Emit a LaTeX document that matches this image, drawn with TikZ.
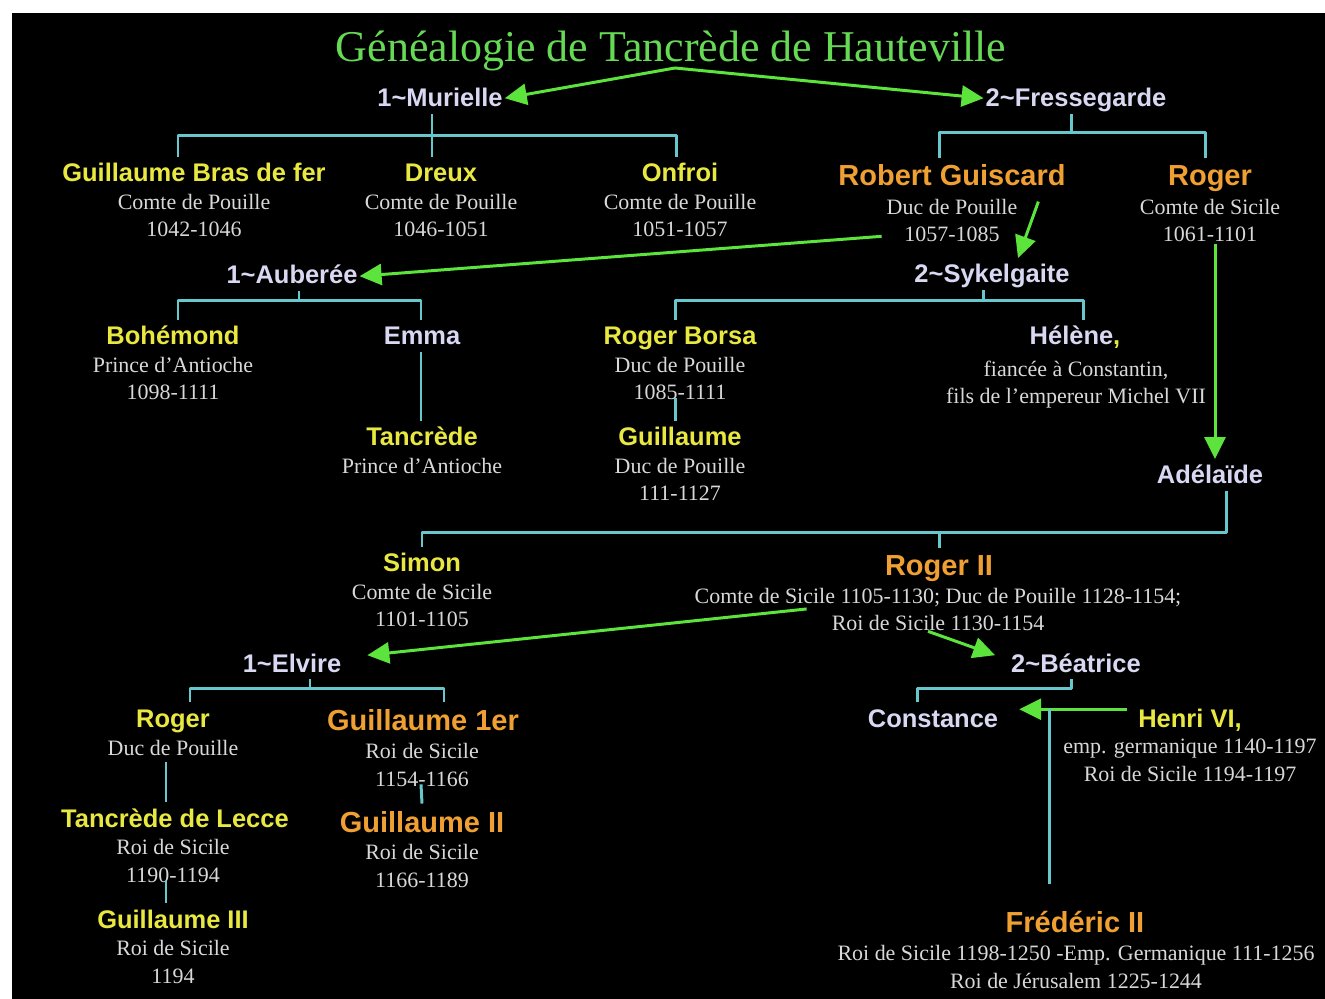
\documentclass[tikz,border=0pt]{standalone}
\usepackage{fontspec}
\setmainfont{Liberation Serif}
\setsansfont{Liberation Sans}
\usetikzlibrary{arrows.meta,calc}
\definecolor{kincol}{HTML}{66C8CC}
\definecolor{wedcol}{HTML}{5CE43C}
\definecolor{titlecol}{HTML}{66DA55}
\definecolor{yelname}{HTML}{E8E840}
\definecolor{oraname}{HTML}{F0A032}
\definecolor{lavname}{HTML}{D8D8F2}
\definecolor{desctxt}{HTML}{D8D8D8}
\begin{document}
\begin{tikzpicture}[x=0.02cm, y=-0.02cm, line join=round, >={Triangle[length=0.44cm,width=0.42cm]},
	person/.style={anchor=base, inner sep=1pt, font=\sffamily\bfseries\fontsize{14.5}{17}\selectfont, text height=13pt, text depth=3pt},
	yel/.style={person, text=yelname},
	lav/.style={person, text=lavname},
	ora/.style={person, font=\sffamily\bfseries\fontsize{16.5}{19}\selectfont, text height=15pt, text depth=3.5pt, text=oraname},
	desc/.style={anchor=base, inner sep=1pt, align=center, text=desctxt, font=\fontsize{12.5}{15.4}\selectfont},
	kin/.style={draw=kincol, line width=1.7pt},
	wed/.style={draw=wedcol, line width=1.7pt, ->}]
	% fond
	\fill[white] (0,0) rectangle (1325,999);
	\fill[black] (12,13) rectangle (1325,999);
	\useasboundingbox (0,0) rectangle (1325,999);
	% titre
	\node[anchor=base, inner sep=1pt, text=titlecol, font=\fontsize{25}{30}\selectfont] (title) at (671,62) {Généalogie de Tancrède de Hauteville};
	% generation 1 (desc: base = derniere ligne)
	\node[lav] (murielle) at (440,107) {1\textasciitilde Murielle};
	\node[lav] (fressegarde) at (1076,107) {2\textasciitilde Fressegarde};
	\node[yel] (gbf) at (194,182) {Guillaume Bras de fer};
	\node[desc] (gbfD) at (194,237) {Comte de Pouille\\1042-1046};
	\node[yel] (dreux) at (441,182) {Dreux};
	\node[desc] (dreuxD) at (441,237) {Comte de Pouille\\1046-1051};
	\node[yel] (onfroi) at (680,182) {Onfroi};
	\node[desc] (onfroiD) at (680,237) {Comte de Pouille\\1051-1057};
	\node[ora] (robert) at (952,186) {Robert Guiscard};
	\node[desc] (robertD) at (952,242) {Duc de Pouille\\1057-1085};
	\node[ora] (rogerA) at (1210,186) {Roger};
	\node[desc] (rogerAD) at (1210,242) {Comte de Sicile\\1061-1101};
	% generation 2
	\node[lav] (auberee) at (292,284) {1\textasciitilde Auberée};
	\node[lav] (sykelgaite) at (992,283) {2\textasciitilde Sykelgaite};
	\node[yel] (bohemond) at (173,345) {Bohémond};
	\node[desc] (bohemondD) at (173,400) {Prince d'Antioche\\1098-1111};
	\node[lav] (emma) at (422,345) {Emma};
	\node[yel] (tancrede) at (422,446) {Tancrède};
	\node[desc] (tancredeD) at (422,474) {Prince d'Antioche};
	\node[yel] (rborsa) at (680,345) {Roger Borsa};
	\node[desc] (rborsaD) at (680,400) {Duc de Pouille\\1085-1111};
	\node[yel] (guillaume) at (680,446) {Guillaume};
	\node[desc] (guillaumeD) at (680,501) {Duc de Pouille\\111-1127};
	\node[lav] (helene) at (1075,345) {Hélène\textcolor{yelname}{,}};
	\node[desc] (heleneD) at (1076,404) {fiancée à Constantin,\\fils de l'empereur Michel VII};
	\node[lav] (adelaide) at (1210,484) {Adélaïde};
	% generation 3
	\node[yel] (simon) at (422,572) {Simon};
	\node[desc] (simonD) at (422,627) {Comte de Sicile\\1101-1105};
	\node[ora] (roger2) at (939,576) {Roger II};
	\node[desc] (roger2D) at (938,631) {Comte de Sicile 1105-1130; Duc de Pouille 1128-1154;\\Roi de Sicile 1130-1154};
	\node[lav] (elvire) at (292,672) {1\textasciitilde Elvire};
	\node[lav] (beatrice) at (1076,672) {2\textasciitilde Béatrice};
	% generation 4
	\node[yel] (rogerB) at (173,727) {Roger};
	\node[desc] (rogerBD) at (173,755) {Duc de Pouille};
	\node[yel] (lecce) at (175,827) {Tancrède de Lecce};
	\node[desc] (lecceD) at (173,882) {Roi de Sicile\\1190-1194};
	\node[yel] (g3) at (173,928) {Guillaume III};
	\node[desc] (g3D) at (173,983) {Roi de Sicile\\1194};
	\node[ora] (g1) at (423,730) {Guillaume 1er};
	\node[desc] (g1D) at (422,786) {Roi de Sicile\\1154-1166};
	\node[ora] (g2) at (422,832) {Guillaume II};
	\node[desc] (g2D) at (422,887) {Roi de Sicile\\1166-1189};
	\node[lav] (constance) at (933,727) {Constance};
	\node[yel] (henri) at (1190,727) {Henri VI,};
	\node[desc] (henriD) at (1190,781) {emp. germanique 1140-1197\\Roi de Sicile 1194-1197};
	\node[ora] (frederic) at (1075,932) {Frédéric II};
	\node[desc] (fredericD) at (1076,988) {Roi de Sicile 1198-1250 -Emp. Germanique 111-1256\\Roi de Jérusalem 1225-1244};
	% mariages
	\coordinate (apex) at ($(title.base)+(4,6)$);
	\draw[wed] (apex) -- (murielle.east);
	\draw[wed] (apex) -- (fressegarde.west);
	\draw[wed] ($(robertD.south west)+(-3,-8)$) -- ($(auberee.east)+(0,1)$);
	\draw[wed] ($(robertD.north east)+(19,4)$) -- ($(sykelgaite.north)+(26,0)$);
	\draw[wed] ($(rogerAD.south)+(5,0)$) -- ($(adelaide.north)+(5,0)$);
	\draw[wed] ($(roger2D.west)+(114,-1)$) -- ($(elvire.east)+(24,-8)$);
	\draw[wed] ($(roger2D.south)+(-10,-2)$) -- ($(beatrice.west)+(-14,-8)$);
	\draw[wed] ($(henri.west)+(-9,-9)$) -- ($(constance.east)+(19,-9)$);
	% filiations
	\draw[kin] ($(murielle.south)+(-8,0)$) -- ($(dreux.north)+(-9,0)$);
	\draw[kin] ($(gbf.north)+(-16,0)$) -- ++(0,-22) -| ($(onfroi.north)+(-4,0)$);
	\draw[kin] ($(fressegarde.south)+(-5,0)$) -- ++(0,19);
	\draw[kin] ($(robert.north)+(-13,0)$) -- ++(0,-25) -| ($(rogerA.north)+(-5,0)$);
	\draw[kin] ($(auberee.south)+(7,0)$) -- ++(0,9);
	\draw[kin] ($(bohemond.north)+(5,0)$) -- ++(0,-20) -| ($(emma.north)+(-1,0)$);
	\draw[kin] ($(emma.south)+(-1,0)$) -- ($(tancrede.north)+(-1,0)$);
	\draw[kin] ($(sykelgaite.south)+(-9,0)$) -- ++(0,10);
	\draw[kin] ($(rborsa.north)+(-5,0)$) -- ++(0,-20) -| ($(helene.north)+(8,0)$);
	\draw[kin] ($(rborsaD.south)+(-5,-4)$) -- ($(guillaume.north)+(-5,0)$);
	\draw[kin] ($(adelaide.south)+(16,0)$) |- ($(simon.north)+(0,-15)$) -- (simon.north);
	\draw[kin] (roger2.north) -- ++(0,-16);
	\draw[kin] ($(elvire.south)+(18,0)$) -- ++(0,9);
	\draw[kin] ($(rogerB.north)+(17,0)$) -- ++(0,-14) -| ($(g1.north)+(21,0)$);
	\draw[kin] ($(rogerBD.south)+(-7,5)$) -- ($(lecce.north)+(-9,0)$);
	\draw[kin] ($(lecceD.south)+(-7,-3)$) -- ($(g3.north)+(-7,0)$);
	\draw[kin] ($(g1D.south)+(-1,-4)$) -- (g2.north);
	\draw[kin] ($(beatrice.south)+(-5,0)$) -- ++(0,9) -| ($(constance.north)+(-16,0)$);
	\coordinate (union) at (1049,709);
	\draw[kin, shorten >=0.4cm] (union) -- (union |- frederic.north);
\end{tikzpicture}
\end{document}
